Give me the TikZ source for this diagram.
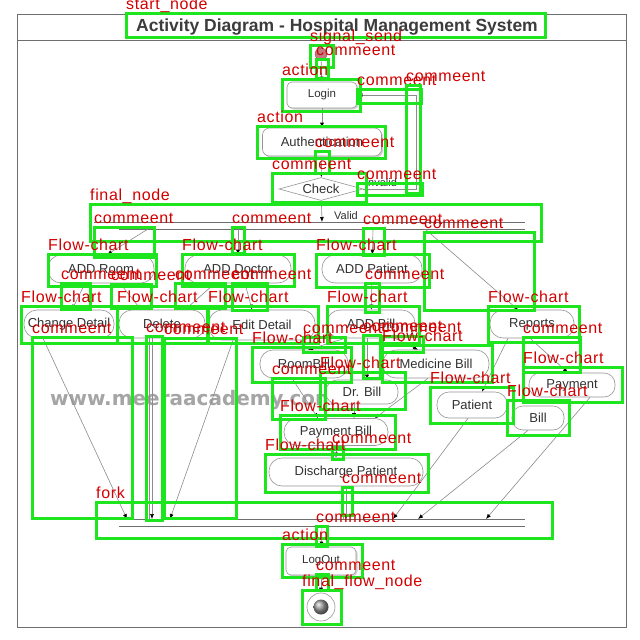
\documentclass[tikz,border=0pt]{standalone}
\usepackage{fontspec}
\setmainfont{Liberation Sans}
\newfontfamily\lblfont{Liberation Sans}[LetterSpace=4.0]
\newfontfamily\wmfont{DejaVu Sans}
\usetikzlibrary{shapes.geometric,arrows.meta,shadows}
\definecolor{gbx}{RGB}{30,230,30}
\definecolor{rlb}{RGB}{210,0,0}
\definecolor{ndb}{RGB}{150,150,150}
\definecolor{txg}{RGB}{50,50,50}
\definecolor{lng}{RGB}{140,140,140}
\definecolor{frm}{RGB}{110,110,110}
\definecolor{wmk}{RGB}{165,165,165}
\definecolor{stc}{RGB}{196,120,130}
\definecolor{ttl}{RGB}{60,60,60}
\begin{document}
\begin{tikzpicture}[x=1pt,y=-1pt,
 stad/.style={draw=ndb, fill=white, line width=0.6pt, rounded corners=13pt, inner sep=0pt, font=\fontsize{13}{13}\selectfont, text=txg},
 rbox/.style={stad, rounded corners=5pt, drop shadow={shadow xshift=1.5pt, shadow yshift=-1.5pt, opacity=0.35}},
 flow/.style={draw=lng, line width=0.6pt, -{Latex[length=5pt,width=4pt,color=black]}},
 plain/.style={draw=lng, line width=0.6pt},
 barline/.style={draw=frm, line width=0.7pt},
 gbox/.style={draw=gbx, line width=3pt},
 lbl/.style={anchor=base west, inner sep=0pt, text=rlb, font=\lblfont\fontsize{16}{16}\selectfont},
 small/.style={inner sep=1pt, text=txg, font=\fontsize{11}{11}\selectfont},
]
\useasboundingbox (0,0) rectangle (640,640);
\fill[white] (0,0) rectangle (640,640);
% frame and title
\draw[frm, line width=0.8pt] (17.5,14) rectangle (626,627);
\draw[frm, line width=0.8pt] (17.5,40.5) -- (626,40.5);
\node[font=\bfseries\fontsize{17.5}{17.5}\selectfont, text=ttl] (title) at (337,27) {Activity Diagram - Hospital Management System};
% watermark
\node[font=\wmfont\bfseries\fontsize{20}{20}\selectfont, text=wmk] (wm) at (193,400) {www.meeraacademy.com};

% nodes
\node[circle, fill=stc, draw=stc!70!black, minimum size=12pt, inner sep=0pt] (start) at (321,54) {};
\node[rbox, minimum width=70pt, minimum height=26pt, font=\fontsize{11.5}{11.5}\selectfont] (login) at (322,95) {Login};
\node[rbox, minimum width=119pt, minimum height=28pt, rounded corners=7pt] (auth) at (322,142) {Authentication};
\node[diamond, draw=ndb, fill=white, line width=0.6pt, inner sep=0pt, minimum width=84pt, minimum height=23pt, aspect=3.6, font=\fontsize{13}{13}\selectfont, text=txg] (check) at (321,189) {Check};

\node[stad, minimum width=106pt, minimum height=28pt] (addroom) at (101,269) {ADD Room};
\node[stad, minimum width=106pt, minimum height=28pt] (adddoc) at (238,269) {ADD Doctor};
\node[stad, minimum width=100pt, minimum height=28pt] (addpat) at (372,269) {ADD Patient};

\node[stad, minimum width=90pt, minimum height=28pt] (change) at (69,324) {Change Detail};
\node[stad, minimum width=86pt, minimum height=28pt] (delete) at (162,324) {Delete};
\node[stad, minimum width=106pt, minimum height=30pt] (edit) at (262,325) {Edit Detail};
\node[stad, minimum width=88pt, minimum height=28pt] (addbill) at (371,324) {ADD Bill};
\node[stad, minimum width=84pt, minimum height=28pt] (reports) at (532,324) {Reports};

\node[stad, minimum width=88pt, minimum height=28pt] (roombill) at (304,364) {RoomBill};
\node[stad, minimum width=106pt, minimum height=28pt] (medbill) at (436,364) {Medicine Bill};
\node[stad, minimum width=72pt, minimum height=24pt, rounded corners=11pt] (drbill) at (362,392) {Dr. Bill};
\node[stad, minimum width=70pt, minimum height=26pt, rounded corners=12pt] (patient) at (472,405) {Patient};
\node[stad, minimum width=86pt, minimum height=24pt, rounded corners=11pt] (payment) at (572,385) {Payment};
\node[stad, minimum width=52pt, minimum height=24pt, rounded corners=11pt] (bill) at (538,418) {Bill};
\node[stad, minimum width=104pt, minimum height=27pt] (paybill) at (336,432) {Payment Bill};
\node[stad, minimum width=154pt, minimum height=28pt] (discharge) at (346,472) {Discharge Patient};

\node[rbox, minimum width=70pt, minimum height=28pt, font=\fontsize{11.5}{11.5}\selectfont] (logout) at (321,561) {LogOut};
\node[circle, draw=ndb, fill=white, line width=0.6pt, minimum size=28pt, inner sep=0pt] (final) at (321,607) {};
\node[circle, ball color=gray!80, minimum size=15pt, inner sep=0pt] (finalin) at (321,607) {};

% bars
\draw[barline] (94,222) -- (525,222);
\draw[barline] (119,229) -- (525,229);
\draw[barline] (119,519) -- (525,519);
\draw[barline] (119,526) -- (525,526);
\coordinate (tv) at (322,222);
\coordinate (t1) at (148,229);
\coordinate (t2) at (238,229);
\coordinate (t3) at (373,229);
\coordinate (t4) at (425,229);
\coordinate (b1) at (127,519);
\coordinate (b2) at (152,519);
\coordinate (b2a) at (149,519);
\coordinate (b3) at (170,519);
\coordinate (b4) at (346,519);
\coordinate (b4a) at (343,519);
\coordinate (b5) at (393,519);
\coordinate (b6) at (418,519);
\coordinate (b7) at (486,519);
\coordinate (bo) at (322,526);
\coordinate (lpa) at (416,189);
\coordinate (lpb) at (416,95);

% connectors
\draw[flow] (start) -- (login);
\draw[flow] (login) -- (auth);
\draw[flow] (auth) -- (check);
\draw[flow] (check.east) -- (lpa) -- (lpb) -- (login.east);
\node[small, anchor=south] (inv) at (381,188) {Invalid};
\draw[flow] (check) -- (tv);
\node[small] (valid) at (346,216) {Valid};

\draw[flow] (t1) -- ([xshift=6pt]addroom.north);
\draw[flow] (t2) -- (adddoc);
\draw[flow] (t3) -- (addpat);
\draw[flow] (t4) -- ([xshift=-14pt]reports.north);

\draw[flow] ([xshift=-16pt]addroom.south) -- ([xshift=3pt]change.north);
\draw[flow] ([xshift=19pt]addroom.south) -- ([xshift=-21pt]delete.north);
\draw[flow] ([xshift=-23pt]adddoc.south) -- ([xshift=23pt]delete.north);
\draw[flow] ([xshift=7pt]adddoc.south) -- ([xshift=-10pt]edit.north);
\draw[flow] (addpat) -- (addbill);

\draw[flow] ([xshift=-26pt]addbill.south) -- ([xshift=4pt]roombill.north);
\draw[flow] ([xshift=-4pt]addbill.south) -- ([xshift=5pt]drbill.north);
\draw[plain] ([xshift=-8pt]addbill.south) -- ([xshift=1pt]drbill.north);
\draw[flow] ([xshift=24pt]addbill.south) -- ([xshift=-18pt]medbill.north);

\draw[flow] ([xshift=-12pt]roombill.south) -- ([xshift=-18pt]paybill.north);
\draw[flow] ([xshift=-8pt]drbill.south) -- ([xshift=18pt]paybill.north);
\draw[flow] ([xshift=-8pt]medbill.south) -- ([xshift=39pt]paybill.north);
\draw[flow] (paybill.south) -- (paybill.south |- discharge.north);

\draw[flow] ([xshift=-24pt]reports.south) -- ([xshift=10pt]patient.north);
\draw[flow] ([xshift=-2pt]reports.south) -- ([xshift=-4pt]payment.north);

\draw[flow] ([xshift=-26pt]change.south) -- (b1);
\draw[flow] ([xshift=-10pt]delete.south) -- (b2);
\draw[plain] ([xshift=-13pt]delete.south) -- (b2a);
\draw[flow] ([xshift=-29pt]edit.south) -- (b3);
\draw[flow] (discharge.south) -- (b4);
\draw[plain] ([xshift=-3pt]discharge.south) -- (b4a);
\draw[flow] ([xshift=-4pt]patient.south) -- (b5);
\draw[flow] ([xshift=-10pt]bill.south) -- (b6);
\draw[flow] ([xshift=18pt]payment.south) -- (b7);
\draw[flow] (bo) -- (logout);
\draw[flow] (logout) -- (final);

% annotation boxes and labels
\foreach \xa/\ya/\xb/\yb/\tx [count=\i] in {
126/13/545/37/start\_node,
310/45/333/67/signal\_send,
316/59/328/78/commeent,
282/79/360/111/action,
357/89/421/103/commeent,
406/85/420/193/commeent,
257/126/385/158/action,
315/151/329/173/commeent,
272/173/366/202/commeent,
357/183/422/195/commeent,
90/204/541/241/final\_node,
94/227/154/257/commeent,
48/254/156/286/Flow-chart,
232/227/244/253/commeent,
182/254/294/286/Flow-chart,
363/228/384/255/commeent,
424/232/534/310/commeent,
316/254/429/287/Flow-chart,
61/283/90/309/commeent,
111/284/151/308/commeent,
175/283/225/308/commeent,
232/283/267/310/commeent,
365/283/379/312/commeent,
21/306/117/343/Flow-chart,
117/306/207/343/Flow-chart,
208/306/318/343/Flow-chart,
327/306/419/343/Flow-chart,
488/306/579/342/Flow-chart,
32/337/132/518/commeent,
146/336/162/520/commeent,
164/338/236/518/commeent,
303/337/345/352/commeent,
363/335/380/378/commeent,
382/336/423/352/commeent,
523/337/580/372/commeent,
252/347/351/382/Flow-chart,
382/345/492/382/Flow-chart,
320/372/405/409/Flow-chart,
272/378/325/419/commeent,
523/367/622/402/Flow-chart,
430/387/513/423/Flow-chart,
507/400/569/435/Flow-chart,
280/415/395/449/Flow-chart,
332/447/343/459/commeent,
265/454/428/492/Flow-chart,
342/487/352/515/commeent,
96/502/552/538/fork,
316/526/327/546/commeent,
282/544/362/577/action,
316/574/328/590/commeent,
302/590/341/624/final\_flow\_node}
{
 \draw[gbox] (\xa,\ya) rectangle (\xb,\yb);
 \node[lbl] (lab\i) at (\xa,\ya-4) {\tx};
}
\end{tikzpicture}
\end{document}
